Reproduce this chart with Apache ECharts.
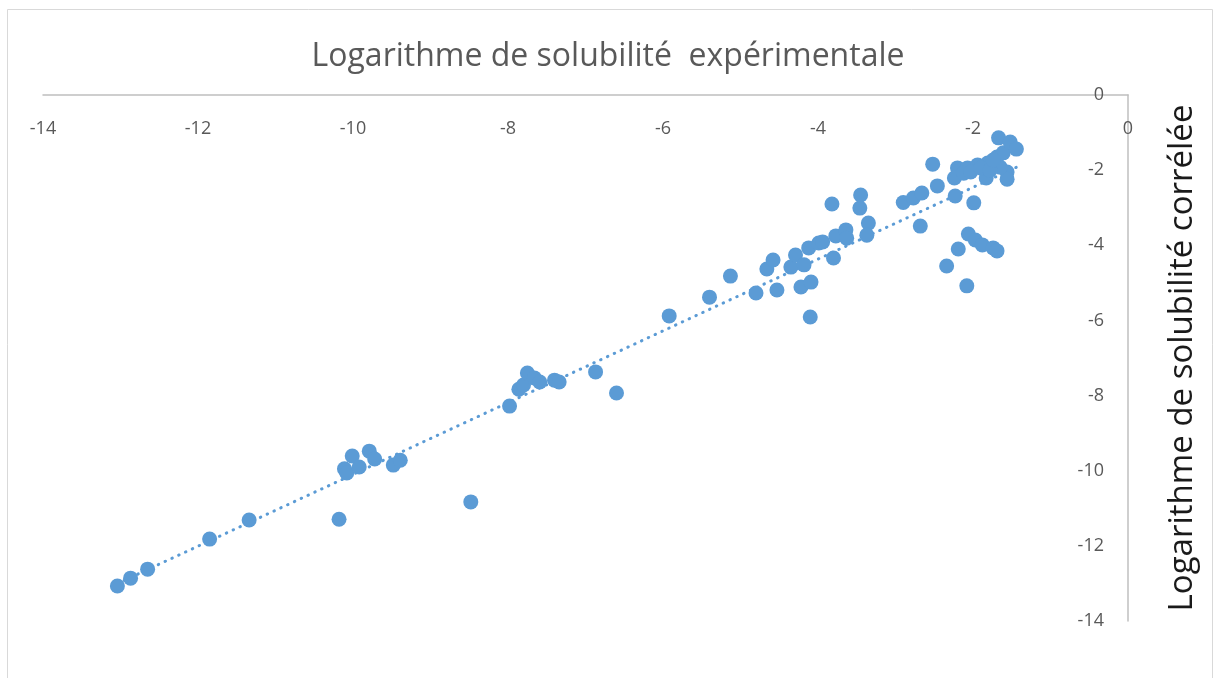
<!DOCTYPE html>
<html>
<head>
<meta charset="utf-8">
<script src="https://cdn.jsdelivr.net/npm/echarts@6/dist/echarts.min.js"></script>
<style>
html,body{margin:0;padding:0;background:#fff;}
#chart{width:1216px;height:678px;}
</style>
</head>
<body>
<div id="chart"></div>
<script>
// Experimental log solubility (x) and correlated log solubility (y)
const xExp = [-13.04,-12.87,-12.65,-11.85,-11.34,-10.18,-8.48,
  -10.11,-10.08,-10.01,-9.92,-9.79,-9.72,-9.48,-9.39,
  -7.98,-7.86,-7.80,-7.75,-7.66,-7.59,-7.40,-7.34,-6.87,-6.60,
  -5.92,-5.40,-5.13,-4.80,-4.66,-4.58,-4.53,-4.35,-4.29,-4.22,-4.18,-4.12,-4.09,-4.10,
  -3.99,-3.94,-3.80,-3.77,-3.64,-3.63,-3.82,-3.45,-3.46,-3.35,-3.37,
  -2.90,-2.77,-2.66,-2.46,-2.52,-2.68,-2.23,-1.99,-2.20,-2.24,-2.07,-1.94,-1.81,-1.69,-1.61,
  -1.67,-1.52,-1.44,-1.56,-1.56,-1.83,-1.65,-2.12,-2.03,-1.90,-1.78,-1.74,
  -2.06,-1.97,-1.88,-1.74,-1.69,-2.19,-2.34,-2.08];
const yCorr = [-13.07,-12.86,-12.62,-11.82,-11.31,-11.29,-10.83,
  -9.95,-10.06,-9.61,-9.90,-9.48,-9.69,-9.85,-9.72,
  -8.28,-7.83,-7.72,-7.40,-7.53,-7.64,-7.59,-7.64,-7.37,-7.93,
  -5.88,-5.38,-4.82,-5.27,-4.63,-4.39,-5.19,-4.58,-4.26,-5.11,-4.52,-4.07,-4.98,-5.91,
  -3.94,-3.91,-4.34,-3.75,-3.59,-3.81,-2.90,-2.66,-3.01,-3.41,-3.73,
  -2.86,-2.74,-2.61,-2.42,-1.84,-3.49,-2.69,-2.87,-1.94,-2.21,-1.94,-1.86,-1.81,-1.65,-1.54,
  -1.14,-1.25,-1.44,-2.05,-2.24,-2.21,-1.92,-2.08,-2.05,-1.94,-2.00,-1.73,
  -3.70,-3.86,-3.99,-4.07,-4.15,-4.10,-4.55,-5.08];

const titleText = 'Logarithme de solubilité  expérimentale';
const yTitleText = 'Logarithme de solubilité corrélée';
const axisMin = -14, axisMax = 0, axisStep = 2;

// linear trendline (least squares) across the data range
const n = xExp.length;
let sx=0, sy=0, sxx=0, sxy=0;
for (let i=0;i<n;i++){ sx+=xExp[i]; sy+=yCorr[i]; sxx+=xExp[i]*xExp[i]; sxy+=xExp[i]*yCorr[i]; }
const slope = (n*sxy - sx*sy)/(n*sxx - sx*sx);
const icpt = (sy - slope*sx)/n;
const xmin = Math.min(...xExp), xmax = Math.max(...xExp);
const trend = [[xmin, slope*xmin+icpt],[xmax, slope*xmax+icpt]];

const pts = xExp.map((x,i)=>[x, yCorr[i]]);
const blue = '#5B9BD5';
const grey = '#595959';
const font = '"Open Sans", "Liberation Sans", sans-serif';

const chart = echarts.init(document.getElementById('chart'), null, {renderer:'canvas'});
chart.setOption({
  backgroundColor:'#fff',
  animation:false,
  title:{
    text:titleText, left:'center', top:36,
    textStyle:{fontFamily:font, fontSize:32, fontWeight:'normal', color:grey}
  },
  graphic:[{
    type:'rect', shape:{x:7.5, y:9.5, width:1205, height:720},
    style:{fill:'none', stroke:'#d9d9d9', lineWidth:1}, silent:true
  }],
  grid:{left:43, right:88, top:95, bottom:57, containLabel:false},
  xAxis:{
    type:'value', min:axisMin, max:axisMax, interval:axisStep, position:'top',
    axisLine:{show:true, onZero:false, lineStyle:{color:'#bfbfbf', width:1.5}},
    axisTick:{show:false},
    splitLine:{show:false},
    axisLabel:{inside:true, margin:25, color:grey, fontFamily:font, fontSize:18}
  },
  yAxis:{
    type:'value', min:axisMin, max:axisMax, interval:axisStep, position:'right',
    axisLine:{show:true, onZero:false, lineStyle:{color:'#bfbfbf', width:1.5}},
    axisTick:{show:false},
    splitLine:{show:false},
    axisLabel:{inside:true, margin:24, color:grey, fontFamily:font, fontSize:18},
    name:yTitleText, nameLocation:'middle', nameRotate:90, nameGap:38,
    nameTextStyle:{fontFamily:font, fontSize:33, color:'#1a1a1a'}
  },
  series:[
    {
      type:'scatter', data:pts, symbol:'circle', symbolSize:15,
      itemStyle:{color:blue, opacity:1}, z:3
    },
    {
      type:'line', data:trend, symbol:'none', silent:true,
      lineStyle:{color:blue, width:3, type:[0.5,7], cap:'round'}, z:2
    }
  ]
});
</script>
</body>
</html>
